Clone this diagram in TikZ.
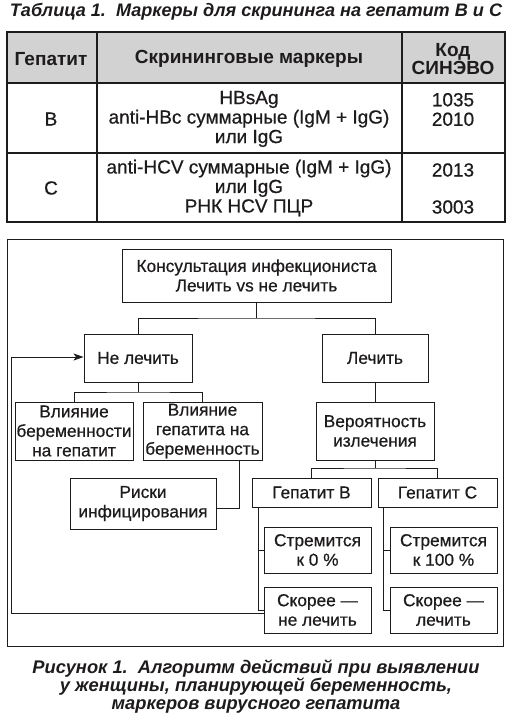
\documentclass[tikz,border=0pt]{standalone}
\usepackage{fontspec}
\setmainfont[UprightFeatures={FakeBold=0.6}]{Liberation Sans}
\usetikzlibrary{arrows.meta}
\definecolor{ink}{RGB}{30,27,28}
\definecolor{hdr}{RGB}{210,210,210}
\begin{document}
\begin{tikzpicture}[x=1pt,y=-1pt,
  every node/.style={text=ink},
  box/.style={draw=ink, line width=0.9pt, inner sep=0pt, align=center,
    font=\fontsize{17.3}{19.5}\selectfont},
  tline/.style={draw=ink, line width=1.1pt},
  conn/.style={draw=ink, line width=0.9pt},
  arr/.style={conn, -{Stealth[length=10pt,width=7pt,inset=2.5pt]}},
  ttext/.style={align=center, inner sep=0pt, font=\fontsize{19}{19.5}\selectfont},
  thead/.style={align=center, inner sep=0pt, font=\fontsize{19}{18}\selectfont\bfseries},
  captext/.style={align=center, inner sep=0pt, font=\fontsize{18.3}{18}\selectfont\bfseries\itshape}
]
\path[use as bounding box] (0,0) rectangle (511,724);

% ---------- table ----------
\node[captext, font=\fontsize{18.1}{18}\selectfont\bfseries\itshape] (title) at (256,12)
  {Таблица 1.\ \ Маркеры для скрининга на гепатит B и C};
\fill[hdr] (7,32) rectangle (505,83);
\draw[tline] (7,32) rectangle (505,222);
\draw[tline] (7,83) -- (505,83);
\draw[tline] (7,153) -- (505,153);
\draw[tline] (97,32) -- (97,222);
\draw[tline] (402,32) -- (402,222);

\node[thead] (h1) at (51,59) {Гепатит};
\node[thead] (h2) at (249,59) {Скрининговые маркеры};
\node[thead] (h3) at (453,59) {Код\\СИНЭВО};

\node[ttext] (rb) at (51,119) {B};
\node[ttext] (mb) at (249,119) {HBsAg\\anti-HBc суммарные (IgM + IgG)\\или IgG};
\node[ttext] (kb) at (453,109.5) {1035\\2010};

\node[ttext] (rc) at (51,188) {C};
\node[ttext] (mc) at (249,188) {anti-HCV суммарные (IgM + IgG)\\или IgG\\РНК HCV ПЦР};
\node[ttext] (kc1) at (453,170) {2013};
\node[ttext] (kc2) at (453,207) {3003};

% ---------- flowchart ----------
\draw[conn] (7,239) rectangle (503,646);

\node[box, minimum width=269pt, minimum height=53pt] (top) at (256.5,275.5)
  {Консультация инфекциониста\\Лечить vs не лечить};
\node[box, minimum width=108pt, minimum height=48pt] (nl) at (138,358) {Не лечить};
\node[box, minimum width=106pt, minimum height=48pt] (l) at (375,358) {Лечить};
\node[box, minimum width=118pt, minimum height=58pt] (v1) at (74,431)
  {Влияние\\беременности\\на гепатит};
\node[box, minimum width=119pt, minimum height=58pt] (v2) at (202.5,431)
  {Влияние\\гепатита на\\беременность};
\node[box, minimum width=146pt, minimum height=51pt] (risk) at (143,503.5)
  {Риски\\инфицирования};
\node[box, minimum width=118pt, minimum height=58pt] (ver) at (375,431)
  {Вероятность\\излечения};
\node[box, minimum width=119pt, minimum height=29pt] (hb) at (311.5,492.5) {Гепатит B};
\node[box, minimum width=119pt, minimum height=29pt] (hc) at (437.5,492.5) {Гепатит C};
\node[box, minimum width=107pt, minimum height=46pt] (s0) at (317.5,550) {Стремится\\к 0 \%};
\node[box, minimum width=107pt, minimum height=46pt] (s100) at (443.5,550) {Стремится\\к 100 \%};
\node[box, minimum width=107pt, minimum height=46pt] (sn) at (317.5,610) {Скорее —\\не лечить};
\node[box, minimum width=107pt, minimum height=46pt] (sl) at (443.5,610) {Скорее —\\лечить};

\coordinate (j1) at (256.5,318);
\draw[conn] (top) -- (j1);
\draw[conn] (nl.north) |- (j1) -| (l.north);

\coordinate (j2) at (138,392);
\draw[conn] (nl) -- (j2);
\draw[conn] (v1.north) |- (j2) -| (v2.north);

\coordinate (r1) at (239,508);
\draw[conn] (v2.south -| r1) -- (r1) -- (r1 -| risk.east);

\draw[conn] (l) -- (ver);
\coordinate (j3) at (375,468);
\draw[conn] (ver) -- (j3);
\draw[conn] (hb.north) |- (j3) -| (hc.north);

\coordinate (bB) at (258,507);
\draw[conn] (bB) |- (sn.west);
\draw[conn] (bB |- s0.west) -- (s0.west);
\coordinate (bC) at (383,507);
\draw[conn] (bC) |- (sl.west);
\draw[conn] (bC |- s100.west) -- (s100.west);

\coordinate (lp) at (11,357);
\draw[arr] ([yshift=-3pt]sn.west) -| (lp) -- (nl.west |- lp);

\node[captext] (caption) at (256,687)
  {Рисунок 1.\ \ Алгоритм действий при выявлении\\у женщины, планирующей беременность,\\маркеров вирусного гепатита};
\end{tikzpicture}
\end{document}
